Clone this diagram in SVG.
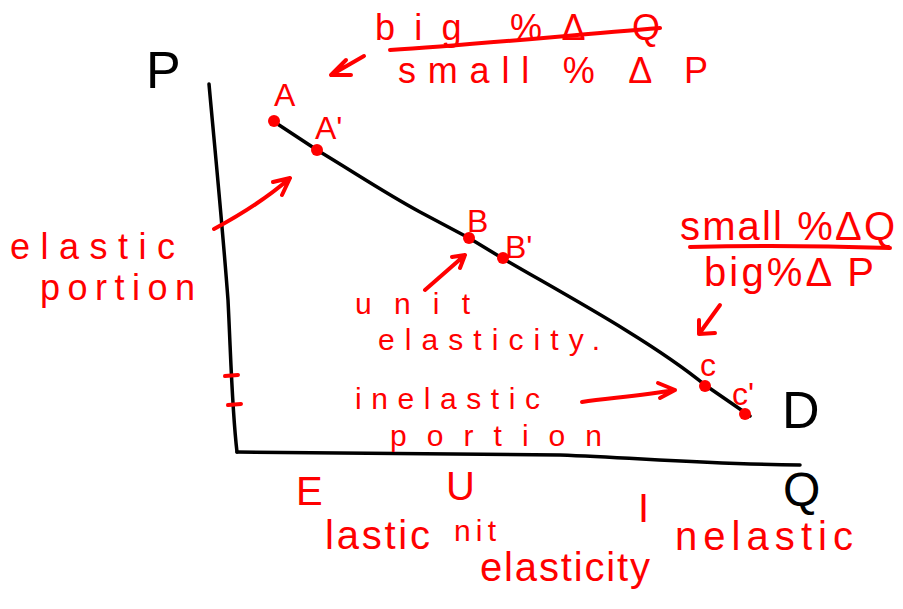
<svg xmlns="http://www.w3.org/2000/svg" width="903" height="609" viewBox="0 0 903 609">
<defs>
<style>
.ax{fill:none;stroke:#000;stroke-width:3.5;stroke-linecap:round;stroke-linejoin:round}
.rl{fill:none;stroke:#f00;stroke-width:4;stroke-linecap:round;stroke-linejoin:round}
.rt{fill:#f00;font-family:"Liberation Sans","DejaVu Sans",sans-serif;font-size:40px}
.md{font-size:36px}
.sm{font-size:30px}
.pt{font-size:32px}
.bt{fill:#000;font-family:"Liberation Sans","DejaVu Sans",sans-serif;font-size:52px}
.dot{fill:#f00}
</style>
</defs>
<rect width="903" height="609" fill="#fff"/>
<g id="axes">
<path class="ax" d="M209,84 C214,140 222,220 228,300 C231,360 232,410 237,452"/>
<path class="ax" d="M237,452 L560,455 C640,458 700,464 800,465"/>
<text class="bt" x="146" y="88">P</text>
<text class="bt" x="783" y="506" style="font-size:48px">Q</text>
<path class="rl" d="M225,376 L238,375 M228,405 L241,404"/>
</g>
<g id="demand">
<path class="ax" d="M276,123 L317,150 C360,176 385,193 420,212 L469,238 L502,258 C560,292 650,340 705,385 L750,416"/>
<text class="bt" x="782" y="428">D</text>
</g>
<g id="points">
<circle class="dot" cx="274" cy="121" r="6"/>
<circle class="dot" cx="317" cy="150" r="6"/>
<circle class="dot" cx="469" cy="238" r="6"/>
<circle class="dot" cx="503" cy="258" r="6"/>
<circle class="dot" cx="705" cy="386" r="6"/>
<circle class="dot" cx="745" cy="414" r="6"/>
<text class="rt pt" x="274" y="106">A</text>
<text class="rt pt" x="315" y="139">A'</text>
<text class="rt pt" x="467" y="232">B</text>
<text class="rt pt" x="505" y="258">B'</text>
<text class="rt pt" x="700" y="376">c</text>
<text class="rt pt" x="732" y="405">c'</text>
</g>
<g id="top-label">
<text class="rt md" x="375" y="40" textLength="285" lengthAdjust="spacing">big %Δ Q</text>
<path class="rl" d="M390,50 C470,45 560,36 660,28"/>
<text class="rt md" x="398" y="83" textLength="310" lengthAdjust="spacing">small % Δ P</text>
</g>
<g id="right-label">
<text class="rt" x="680" y="240" textLength="215" lengthAdjust="spacing">small %ΔQ</text>
<path class="rl" d="M690,247 C760,245 830,246 890,248"/>
<text class="rt" x="704" y="286" textLength="170" lengthAdjust="spacing">big%Δ P</text>
</g>
<g id="elastic-label">
<text class="rt md" x="10" y="259" textLength="165" lengthAdjust="spacing">elastic</text>
<text class="rt md" x="40" y="300" textLength="155" lengthAdjust="spacing">portion</text>
</g>
<g id="unit-label">
<text class="rt sm" x="355" y="314" textLength="115" lengthAdjust="spacing">unit</text>
<text class="rt sm" x="378" y="350" textLength="222" lengthAdjust="spacing">elasticity.</text>
</g>
<g id="inelastic-label">
<text class="rt sm" x="355" y="409" textLength="185" lengthAdjust="spacing">inelastic</text>
<text class="rt sm" x="390" y="446" textLength="212" lengthAdjust="spacing">portion</text>
</g>
<g id="bottom-labels">
<text class="rt" x="296" y="505">E</text>
<text class="rt" x="325" y="549" textLength="105" lengthAdjust="spacing">lastic</text>
<text class="rt" x="446" y="500">U</text>
<text class="rt sm" x="454" y="541" textLength="42" lengthAdjust="spacing">nit</text>
<text class="rt" x="480" y="581" textLength="170" lengthAdjust="spacing">elasticity</text>
<text class="rt" x="638" y="522">I</text>
<text class="rt" x="675" y="550" textLength="178" lengthAdjust="spacing">nelastic</text>
</g>
<g id="connectors">
<path class="rl" d="M364,56 L331,75 M331,75 L346,60 M331,75 L351,75"/>
<path class="rl" d="M214,229 C240,215 265,200 290,178 M290,178 L273,182 M290,178 L282,195"/>
<path class="rl" d="M425,290 L465,255 M465,255 L452,257 M465,255 L460,268"/>
<path class="rl" d="M582,402 C610,398 640,396 675,390 M675,390 L658,383 M675,390 L660,398"/>
<path class="rl" d="M720,305 L699,334 M699,334 L699,320 M699,334 L715,333"/>
</g>
</svg>
